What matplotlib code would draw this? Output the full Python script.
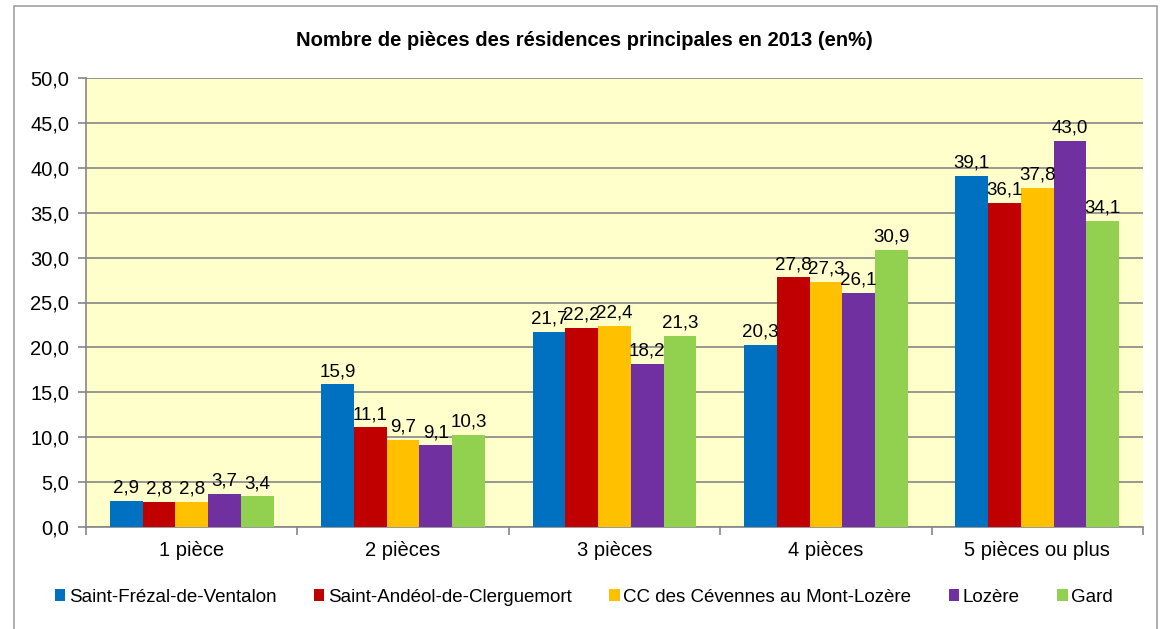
import numpy as np
import matplotlib
matplotlib.use("Agg")
import matplotlib.pyplot as plt
from matplotlib.patches import Rectangle

plt.rcParams['font.family'] = ['Liberation Sans', 'DejaVu Sans']

categories = ['1 pièce', '2 pièces', '3 pièces', '4 pièces', '5 pièces ou plus']
series_names = ['Saint-Frézal-de-Ventalon', 'Saint-Andéol-de-Clerguemort',
                'CC des Cévennes au Mont-Lozère', 'Lozère', 'Gard']
frezal = [2.9, 15.9, 21.7, 20.3, 39.1]
andeol = [2.8, 11.1, 22.2, 27.8, 36.1]
cc_cevennes = [2.8, 9.7, 22.4, 27.3, 37.8]
lozere = [3.7, 9.1, 18.2, 26.1, 43.0]
gard = [3.4, 10.3, 21.3, 30.9, 34.1]
series = [frezal, andeol, cc_cevennes, lozere, gard]
colors = ['#0070C0', '#C00000', '#FFC000', '#7030A0', '#92D050']

fig = plt.figure(figsize=(11.68, 6.29), dpi=100)
ax = fig.add_axes([86 / 1168, 1 - 527 / 629, (1143 - 86) / 1168, (527 - 78) / 629])

# outer chart border
fig.patches.append(Rectangle((14 / 1168, -0.01), (1157 - 14) / 1168, 1 - 6 / 629 + 0.01,
                             transform=fig.transFigure, fill=False,
                             edgecolor='#A0A0A0', linewidth=1.2))

ax.set_facecolor('#FFFFCC')
x = np.arange(len(categories))
w = 0.155
for i, (vals, name, c) in enumerate(zip(series, series_names, colors)):
    pos = x + (i - 2) * w
    bars = ax.bar(pos, vals, width=w, color=c, label=name, zorder=3)
    for b, v in zip(bars, vals):
        ax.annotate(f"{v:.1f}".replace('.', ','), (b.get_x() + w / 2, v),
                    xytext=(0, 3), textcoords='offset points',
                    ha='center', va='bottom', fontsize=13.5, zorder=4)

ax.set_xlim(-0.5, 4.5)
ax.set_ylim(0, 50)
yt = np.arange(0, 51, 5)
ax.set_yticks(yt)
ax.set_yticklabels([f"{v:.1f}".replace('.', ',') for v in yt], fontsize=14.5)
ax.yaxis.grid(True, color='#868686', linewidth=1.2, zorder=1)
ax.set_axisbelow(True)

ax.set_xticks(x)
ax.set_xticklabels(categories, fontsize=14.5)
ax.set_xticks(np.arange(-0.5, 5, 1), minor=True)
ax.tick_params(axis='x', which='major', length=0, pad=10)
ax.tick_params(axis='x', which='minor', length=6, color='#868686', width=1.2)
ax.tick_params(axis='y', length=6, color='#868686', width=1.2, pad=6)

for s in ['top', 'right']:
    ax.spines[s].set_visible(False)
for s in ['left', 'bottom']:
    ax.spines[s].set_color('#868686')
    ax.spines[s].set_linewidth(1.2)

fig.text(0.5, 1 - 40 / 629, 'Nombre de pièces des résidences principales en 2013 (en%)',
         ha='center', va='center', fontsize=14.5, fontweight='bold')

fig.legend(loc='center', bbox_to_anchor=(0.5, 1 - 597 / 629), ncol=5, frameon=False,
           fontsize=13.5, handlelength=0.55, handleheight=0.55, handletextpad=0.2,
           columnspacing=2.0)

fig.savefig('out.png', dpi=100, facecolor='white')
